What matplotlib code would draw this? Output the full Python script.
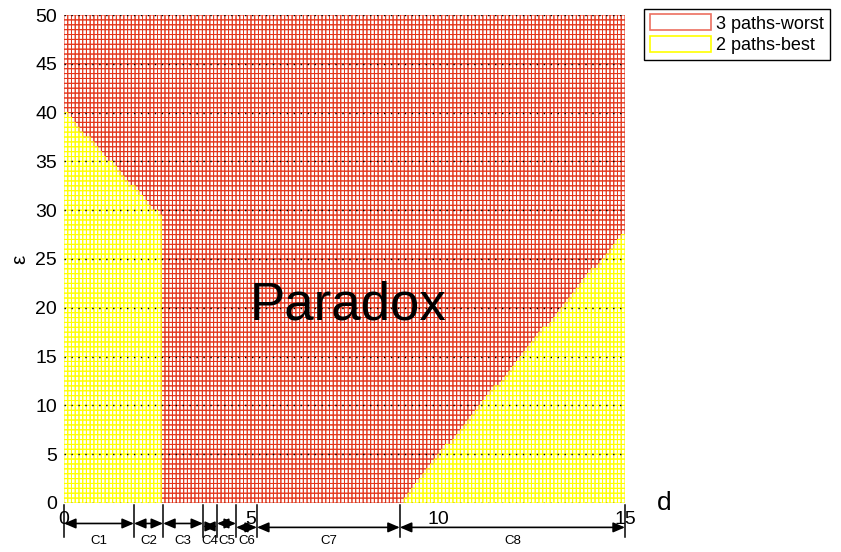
import numpy as np
import matplotlib
matplotlib.use("Agg")
import matplotlib.pyplot as plt
from matplotlib.path import Path
from matplotlib.colors import ListedColormap
from matplotlib.patches import Patch

plt.rcParams["font.family"] = ["Liberation Sans", "DejaVu Sans"]

# ---- data ----
d_step = 0.1
eps_step = 0.5
d_max = 15
eps_max = 50
# "2 paths-best" regions (polygons in (d, eps))
best_left_d = [0, 0, 2.65, 2.65]
best_left_eps = [0, 40, 29, 0]
best_right_d = [9.0, 15, 15]
best_right_eps = [0, 27.7, 0]
# bracket segments under the axis
seg_edges = [0, 1.87, 2.65, 3.72, 4.09, 4.6, 5.16, 8.98, 15]
seg_labels = ["C1", "C2", "C3", "C4", "C5", "C6", "C7", "C8"]
seg_arrow_y = [-2.1, -2.1, -2.1, -2.4, -2.1, -2.5, -2.5, -2.5]
xticks = [0, 5, 10, 15]
yticks = [0, 5, 10, 15, 20, 25, 30, 35, 40, 45, 50]

RED = "#e3351a"
YEL = "#ffff00"

fig = plt.figure(figsize=(8.41, 5.52), dpi=100)
ax = fig.add_axes([0.0761, 0.0888, 0.667, 0.884])

xe = np.arange(0, d_max + d_step / 2, d_step)
ye = np.arange(0, eps_max + eps_step / 2, eps_step)
X, Y = np.meshgrid(xe, ye)
xc = (xe[:-1] + xe[1:]) / 2
yc = (ye[:-1] + ye[1:]) / 2
XC, YC = np.meshgrid(xc, yc)
pts = np.column_stack([XC.ravel(), YC.ravel()])
p1 = Path(np.column_stack([best_left_d, best_left_eps]))
p2 = Path(np.column_stack([best_right_d, best_right_eps]))
best = (p1.contains_points(pts) | p2.contains_points(pts)).reshape(XC.shape)

clear = ListedColormap([(1, 1, 1, 0)])
ones = np.ones(XC.shape)
ax.pcolor(X, Y, np.ma.masked_where(best, ones), cmap=clear,
          edgecolors=RED, linewidth=0.7, zorder=1)
ax.pcolor(X, Y, np.ma.masked_where(~best, ones), cmap=clear,
          edgecolors=YEL, linewidth=0.75, zorder=1.1)

ax.set_xlim(0, d_max)
ax.set_ylim(0, eps_max)
ax.set_xticks(xticks)
ax.set_yticks(yticks)
ax.tick_params(length=0, labelsize=14, pad=5)
ax.tick_params(axis="x", pad=6)
for s in ax.spines.values():
    s.set_visible(False)
ax.yaxis.grid(True, linestyle=(0, (1, 4)), color="black", linewidth=1.0)
ax.set_axisbelow(False)

ax.set_ylabel("ε", fontsize=15, labelpad=4)
ax.text(15.85, 0, "d", fontsize=19, ha="left", va="center")
ax.text(7.6, 20.2, "Paradox", fontsize=38, ha="center", va="center")

# brackets
for i, e in enumerate(seg_edges):
    ax.plot([e, e], [-0.2, -3.5], color="black", lw=1.1, clip_on=False)
for i, lab in enumerate(seg_labels):
    a, b = seg_edges[i], seg_edges[i + 1]
    ax.annotate("", xy=(a, seg_arrow_y[i]), xytext=(b, seg_arrow_y[i]),
                arrowprops=dict(arrowstyle="<|-|>,head_length=0.7,head_width=0.3",
                                color="black", lw=1.2,
                                mutation_scale=10, shrinkA=0, shrinkB=0),
                annotation_clip=False)
    ax.text((a + b) / 2, -3.85, lab, fontsize=9.5, ha="center", va="center",
            clip_on=False)

handles = [Patch(facecolor="white", edgecolor="#ec7060", lw=1.2, label="3 paths-worst"),
           Patch(facecolor="white", edgecolor=YEL, lw=1.2, label="2 paths-best")]
leg = fig.legend(handles=handles, loc="upper left", bbox_to_anchor=(0.766, 0.984),
                 fontsize=13, handlelength=3.4, handleheight=1.0, labelspacing=0.2,
                 handletextpad=0.3, borderpad=0.3, fancybox=False, framealpha=1,
                 edgecolor="black", borderaxespad=0)
leg.get_frame().set_linewidth(1.0)

fig.savefig("out.png", dpi=100)
